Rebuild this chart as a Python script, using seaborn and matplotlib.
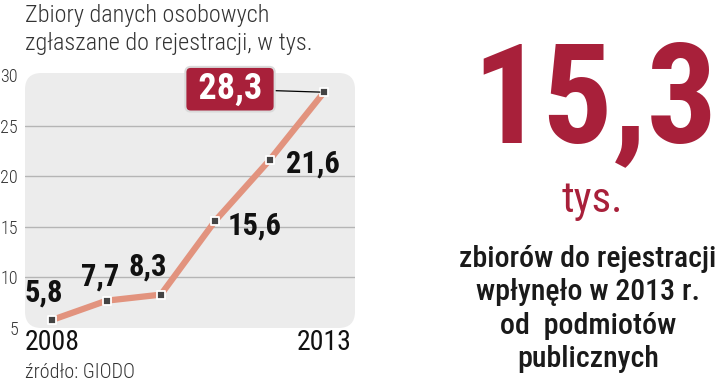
import numpy as np
import pandas as pd
import matplotlib
matplotlib.use("Agg")
import matplotlib.pyplot as plt
from matplotlib.patches import FancyBboxPatch
import seaborn as sns

# ── Data ────────────────────────────────────────────────────────────────────
years = [2008, 2009, 2010, 2011, 2012, 2013]
values = [5.8, 7.7, 8.3, 15.6, 21.6, 28.3]
value_labels = ['5,8', '7,7', '8,3', '15,6', '21,6', '28,3']
y_ticks = [5, 10, 15, 20, 25, 30]
x_ticks = [2008, 2013]

title_lines = ['Zbiory danych osobowych', 'zgłaszane do rejestracji, w tys.']
source = 'źródło: GIODO'
big_number = '15,3'
big_unit = 'tys.'
side_text = ['zbiorów do rejestracji', 'wpłynęło w 2013 r.',
             'od  podmiotów', 'publicznych']

# ── Style ───────────────────────────────────────────────────────────────────
CRIMSON = '#A8203A'
LINE = '#E2937E'
PANEL = '#ECECEC'
GRID = '#B5B5B5'
FONTS = ['Roboto Condensed', 'Roboto', 'DejaVu Sans']

sns.set_style('white')
plt.rcParams['font.family'] = FONTS

# label offsets in pixels (label centre relative to point)
offsets = [(-8, 27), (-6, 24), (-13, 28), (39, -5), (43, -3), (-94, 3)]

df = pd.DataFrame({'year': years, 'value': values})

fig = plt.figure(figsize=(7.2, 3.85), dpi=100)
ax = fig.add_axes([25 / 720, 57 / 385, 330 / 720, 255 / 385])
ax.set_xlim(2007.5, 2013.57)
ax.set_ylim(5, 30.2)
ax.patch.set_visible(False)
for s in ax.spines.values():
    s.set_visible(False)

# rounded panel
panel = FancyBboxPatch((0.0, 0.0), 1.0, 1.0, transform=ax.transAxes,
                       boxstyle='round,pad=0,rounding_size=0.05',
                       facecolor=PANEL, edgecolor='none', zorder=0,
                       mutation_aspect=330 / 255)
ax.add_patch(panel)

for yv in y_ticks[1:-1]:
    ax.axhline(yv, color=GRID, linewidth=1.0, zorder=1)

sns.lineplot(data=df, x='year', y='value', ax=ax, color=LINE,
             linewidth=4.5, zorder=2, solid_capstyle='round')
sns.scatterplot(data=df, x='year', y='value', ax=ax, marker='s', s=30,
                color='#444444', edgecolor='white', linewidth=1.3, zorder=3)

ax.set_xlabel('')
ax.set_ylabel('')
ax.set_yticks(y_ticks)
ax.set_yticklabels([str(v) for v in y_ticks], fontsize=13, color='#333333',
                   fontweight='light')
ax.set_xticks(x_ticks)
ax.set_xticklabels([str(v) for v in x_ticks], fontsize=20, color='#111111')
ax.tick_params(axis='y', length=0, pad=5)
ax.tick_params(axis='x', length=0, pad=1)

for (x, y, lab, off) in zip(years, values, value_labels, offsets):
    if lab == value_labels[-1]:
        ax.annotate(f' {lab} ', xy=(x, y), xytext=off,
                    textcoords='offset pixels',
                    ha='center', va='center', fontsize=26, fontweight='bold',
                    color='white', zorder=5,
                    bbox=dict(boxstyle='round,pad=0.12,rounding_size=0.15',
                              facecolor=CRIMSON, edgecolor='#DADADA',
                              linewidth=1.5),
                    arrowprops=dict(arrowstyle='-', color='black',
                                    linewidth=0.9, shrinkA=0, shrinkB=3))
    else:
        ax.annotate(lab, xy=(x, y), xytext=off, textcoords='offset pixels',
                    ha='center', va='center', fontsize=22, fontweight='bold',
                    color='#111111', zorder=4)

# title and source
for i, line in enumerate(title_lines):
    fig.text(25 / 720, 1 - (22 + i * 28) / 385, line, ha='left',
             va='baseline', fontsize=17.5, color='#333333',
             fontweight='light')
fig.text(25 / 720, 1 - 378 / 385, source, ha='left', va='baseline',
         fontsize=14.5, color='#333333', fontweight='light')

# right-hand panel
fig.text(595 / 720, 1 - 142 / 385, big_number, ha='center', va='baseline',
         fontsize=100, fontweight='bold', color=CRIMSON)
fig.text(592 / 720, 1 - 212 / 385, big_unit, ha='center', va='baseline',
         fontsize=31, color=CRIMSON)
for i, line in enumerate(side_text):
    fig.text(588 / 720, 1 - (267 + i * 33.3) / 385, line, ha='center',
             va='baseline', fontsize=21.5, fontweight='medium',
             color='#1A1A1A')

fig.savefig('out.png', dpi=100)
